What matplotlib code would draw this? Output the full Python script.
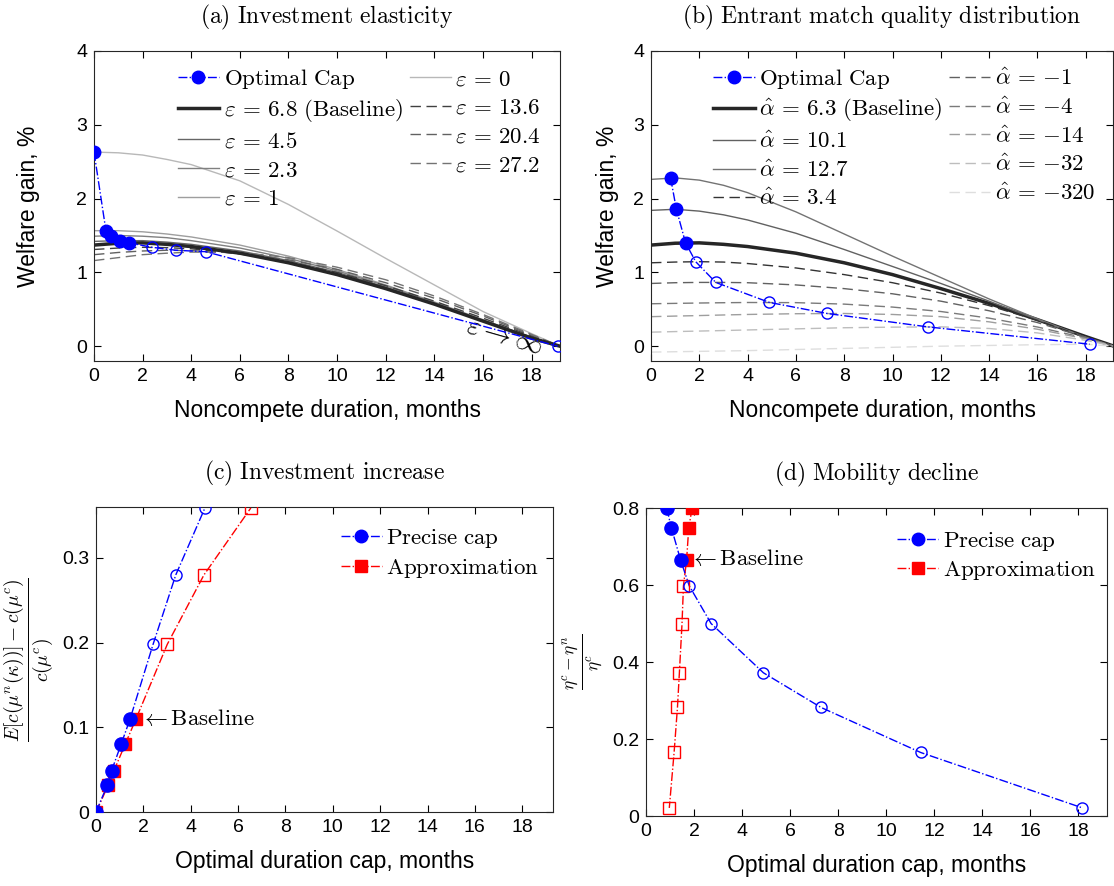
import matplotlib
matplotlib.use("Agg")
import matplotlib.pyplot as plt
from matplotlib.lines import Line2D

plt.rcParams['mathtext.fontset'] = 'cm'
plt.rcParams['font.family'] = ['Liberation Sans', 'DejaVu Sans']

# months grid on which the welfare curves were read
months = [0, 1, 2, 3, 4, 6, 8, 10, 12, 14, 16, 18, 19.17]

# (a) welfare gain (%) for each investment elasticity
eps_0 = [2.63, 2.62, 2.59, 2.53, 2.46, 2.24, 1.92, 1.56, 1.19, 0.83, 0.47, 0.17, 0.0]
eps_1 = [1.565, 1.565, 1.55, 1.52, 1.48, 1.37, 1.22, 1.04, 0.83, 0.60, 0.36, 0.12, 0.0]
eps_2_3 = [1.49, 1.50, 1.49, 1.47, 1.43, 1.33, 1.19, 1.02, 0.82, 0.59, 0.35, 0.12, 0.0]
eps_4_5 = [1.42, 1.43, 1.43, 1.41, 1.38, 1.29, 1.16, 1.00, 0.80, 0.58, 0.35, 0.12, 0.0]
eps_6_8 = [1.37, 1.395, 1.40, 1.38, 1.35, 1.26, 1.13, 0.97, 0.78, 0.57, 0.34, 0.11, 0.0]
eps_13_6 = [1.31, 1.33, 1.34, 1.335, 1.32, 1.25, 1.14, 1.00, 0.82, 0.61, 0.38, 0.14, 0.0]
eps_20_4 = [1.24, 1.27, 1.29, 1.30, 1.295, 1.26, 1.17, 1.04, 0.86, 0.65, 0.41, 0.15, 0.0]
eps_27_2 = [1.16, 1.20, 1.24, 1.26, 1.275, 1.27, 1.20, 1.07, 0.90, 0.68, 0.43, 0.16, 0.0]

cap_a_x = [0, 0.49, 0.69, 1.07, 1.45, 2.39, 3.36, 4.6, 19.07]
cap_a_y = [2.63, 1.565, 1.49, 1.43, 1.40, 1.34, 1.30, 1.28, 0.0]

# (b) welfare gain (%) for each entrant match quality parameter
alpha_12_7 = [2.26, 2.28, 2.25, 2.18, 2.08, 1.82, 1.52, 1.22, 0.93, 0.64, 0.37, 0.12, 0.0]
alpha_10_1 = [1.84, 1.855, 1.83, 1.78, 1.71, 1.53, 1.31, 1.08, 0.85, 0.61, 0.36, 0.12, 0.0]
alpha_6_3 = [1.37, 1.395, 1.40, 1.38, 1.35, 1.26, 1.13, 0.97, 0.78, 0.58, 0.36, 0.13, 0.0]
alpha_3_4 = [1.13, 1.14, 1.145, 1.14, 1.12, 1.06, 0.97, 0.86, 0.72, 0.55, 0.35, 0.12, 0.0]
alpha_m1 = [0.85, 0.86, 0.864, 0.864, 0.86, 0.83, 0.78, 0.71, 0.61, 0.48, 0.32, 0.12, 0.0]
alpha_m4 = [0.575, 0.58, 0.585, 0.589, 0.592, 0.59, 0.57, 0.53, 0.47, 0.38, 0.26, 0.11, 0.0]
alpha_m14 = [0.40, 0.408, 0.415, 0.423, 0.43, 0.44, 0.443, 0.43, 0.40, 0.33, 0.23, 0.10, 0.0]
alpha_m32 = [0.19, 0.198, 0.205, 0.212, 0.22, 0.235, 0.25, 0.258, 0.262, 0.24, 0.18, 0.08, 0.0]
alpha_m320 = [-0.08, -0.075, -0.07, -0.065, -0.06, -0.045, -0.03, -0.015, 0.0, 0.01, 0.02, 0.027, 0.0]

cap_b_x = [0.81, 1.05, 1.43, 1.85, 2.68, 4.9, 7.3, 11.45, 18.17]
cap_b_y = [2.28, 1.855, 1.40, 1.145, 0.864, 0.593, 0.443, 0.262, 0.027]

# (c) investment increase vs optimal cap
inv_precise_x = [0, 0.48, 0.66, 1.06, 1.44, 2.41, 3.37, 4.6]
inv_approx_x = [0, 0.52, 0.76, 1.23, 1.69, 3.01, 4.56, 6.54]
inv_y = [0, 0.032, 0.049, 0.08, 0.11, 0.198, 0.28, 0.359]

# (d) mobility decline vs optimal cap
mob_precise_x = [0.86, 1.06, 1.44, 1.8, 2.71, 4.89, 7.29, 11.44, 18.18]
mob_approx_x = [1.92, 1.78, 1.69, 1.56, 1.5, 1.39, 1.31, 1.17, 0.97]
mob_y = [0.8, 0.748, 0.665, 0.598, 0.5, 0.372, 0.282, 0.165, 0.021]

BLUE = (0, 0, 1)
RED = (1, 0, 0)
TICK_FS = 14
LAB_FS = 16.5
TITLE_FS = 17
LEG_FS = 16.5
DASH = (0, (7.5, 4))


def style_axes(ax):
    ax.tick_params(direction='in', top=True, right=True, length=5, width=0.8,
                   labelsize=TICK_FS, pad=5)
    for s in ax.spines.values():
        s.set_color('0.15')
        s.set_linewidth(0.8)


def cap_line(ax, x, y, nfill, color, marker, ms_f, ms_o):
    ax.plot(x, y, '-.', color=color, lw=1.0, zorder=5)
    ax.plot(x[:nfill], y[:nfill], ls='none', marker=marker, ms=ms_f,
            color=color, zorder=6)
    ax.plot(x[nfill:], y[nfill:], ls='none', marker=marker, ms=ms_o,
            mfc='none', mec=color, mew=1.0, zorder=6)


def eq(sym, val, extra=''):
    return r'$%s\,=\,{%s}%s$' % (sym, val, extra)


fig = plt.figure(figsize=(11.14, 8.86), dpi=100)
ax_a = fig.add_axes([0.0844, 0.5926, 0.4183, 0.3499])
ax_b = fig.add_axes([0.5844, 0.5926, 0.4147, 0.3499])
ax_c = fig.add_axes([0.0862, 0.0835, 0.4102, 0.3442])
ax_d = fig.add_axes([0.5799, 0.0790, 0.4138, 0.3476])

leg_kw = dict(frameon=False, fontsize=LEG_FS, loc='upper left', handlelength=1.8,
              handletextpad=0.2, labelspacing=0.25, borderpad=0)

# ---- (a)
E = r'\varepsilon'
base_a = eq(E, '6.8', r'\ \mathrm{(Baseline)}')
curves_a = [
    (eq(E, '0'), eps_0, '0.72', '-', 1.0),
    (eq(E, '1'), eps_1, '0.62', '-', 1.0),
    (eq(E, '2.3'), eps_2_3, '0.5', '-', 1.0),
    (eq(E, '4.5'), eps_4_5, '0.4', '-', 1.0),
    (eq(E, '13.6'), eps_13_6, '0.25', DASH, 1.0),
    (eq(E, '20.4'), eps_20_4, '0.38', DASH, 1.0),
    (eq(E, '27.2'), eps_27_2, '0.45', DASH, 1.0),
    (base_a, eps_6_8, '0.15', '-', 2.5),
]
handles_a = {}
for lab, vals, col, ls, lw in curves_a:
    h, = ax_a.plot(months, vals, color=col, ls=ls, lw=lw)
    handles_a[lab] = h
cap_line(ax_a, cap_a_x, cap_a_y, 5, BLUE, 'o', 9, 8)
cap_h = Line2D([], [], color=BLUE, ls='-.', lw=1.0, marker='o', ms=9)
order = [base_a, eq(E, '4.5'), eq(E, '2.3'), eq(E, '1'), eq(E, '0'),
         eq(E, '13.6'), eq(E, '20.4'), eq(E, '27.2')]
ax_a.legend([cap_h] + [handles_a[k] for k in order],
            [r'$\mathrm{Optimal\ Cap}$'] + order, ncol=2,
            bbox_to_anchor=(0.155, 0.985), columnspacing=0.3, **leg_kw)
ax_a.text(15.2, 0.14, r'$\varepsilon\rightarrow\infty$', fontsize=20,
          rotation=-16, ha='left', va='center')
ax_a.set_xlim(0, 19.17)
ax_a.set_ylim(-0.2, 4)
ax_a.set_xticks(range(0, 19, 2))
ax_a.set_yticks(range(0, 5))
ax_a.set_xlabel('Noncompete duration, months', fontsize=LAB_FS, labelpad=10)
ax_a.set_ylabel('Welfare gain, %', fontsize=LAB_FS, labelpad=26)
ax_a.set_title(r'$\mathrm{(a)\ Investment\ elasticity}$', fontsize=TITLE_FS, pad=20)
style_axes(ax_a)

# ---- (b)
A = r'\hat{\alpha}'
curves_b = [
    (eq(A, '6.3', r'\ \mathrm{(Baseline)}'), alpha_6_3, '0.15', '-', 2.5),
    (eq(A, '10.1'), alpha_10_1, '0.38', '-', 1.0),
    (eq(A, '12.7'), alpha_12_7, '0.45', '-', 1.0),
    (eq(A, '3.4'), alpha_3_4, '0.2', DASH, 1.0),
    (eq(A, '-1'), alpha_m1, '0.38', DASH, 1.0),
    (eq(A, '-4'), alpha_m4, '0.48', DASH, 1.0),
    (eq(A, '-14'), alpha_m14, '0.62', DASH, 1.0),
    (eq(A, '-32'), alpha_m32, '0.74', DASH, 1.0),
    (eq(A, '-320'), alpha_m320, '0.87', DASH, 1.0),
]
hb = []
for lab, vals, col, ls, lw in curves_b:
    h, = ax_b.plot(months, vals, color=col, ls=ls, lw=lw)
    hb.append(h)
cap_line(ax_b, cap_b_x, cap_b_y, 3, BLUE, 'o', 9, 8)
ax_b.legend([cap_h] + hb, [r'$\mathrm{Optimal\ Cap}$'] + [c[0] for c in curves_b],
            ncol=2, bbox_to_anchor=(0.11, 0.985), columnspacing=0.3, **leg_kw)
ax_b.set_xlim(0, 19.13)
ax_b.set_ylim(-0.2, 4)
ax_b.set_xticks(range(0, 19, 2))
ax_b.set_yticks(range(0, 5))
ax_b.set_xlabel('Noncompete duration, months', fontsize=LAB_FS, labelpad=10)
ax_b.set_ylabel('Welfare gain, %', fontsize=LAB_FS, labelpad=10)
ax_b.set_title(r'$\mathrm{(b)\ Entrant\ match\ quality\ distribution}$',
               fontsize=TITLE_FS, pad=20)
style_axes(ax_b)

# ---- (c)
cap_line(ax_c, inv_approx_x, inv_y, 5, RED, 's', 9, 9)
cap_line(ax_c, inv_precise_x, inv_y, 5, BLUE, 'o', 9.5, 8)
hp = Line2D([], [], color=BLUE, ls='-.', lw=1.0, marker='o', ms=9)
ha = Line2D([], [], color=RED, ls='-.', lw=1.0, marker='s', ms=9)
ax_c.legend([hp, ha], [r'$\mathrm{Precise\ cap}$', r'$\mathrm{Approximation}$'],
            bbox_to_anchor=(0.51, 0.975), **leg_kw)
ax_c.text(1.86, 0.11, r'$\leftarrow\mathrm{Baseline}$', fontsize=LEG_FS,
          ha='left', va='center')
ax_c.set_xlim(0, 19.3)
ax_c.set_ylim(0, 0.36)
ax_c.set_xticks(range(0, 19, 2))
ax_c.set_yticks([0, 0.1, 0.2, 0.3])
ax_c.set_yticklabels(['0', '0.1', '0.2', '0.3'])
ax_c.set_xlabel('Optimal duration cap, months', fontsize=LAB_FS, labelpad=10)
ax_c.set_ylabel(r'$\frac{E[c(\mu^n(\kappa))]-c(\mu^c)}{c(\mu^c)}$', fontsize=20)
ax_c.set_title(r'$\mathrm{(c)\ Investment\ increase}$', fontsize=TITLE_FS, pad=20)
style_axes(ax_c)

# ---- (d)
cap_line(ax_d, mob_approx_x, mob_y, 3, RED, 's', 9, 9)
cap_line(ax_d, mob_precise_x, mob_y, 3, BLUE, 'o', 9.5, 8)
ax_d.legend([hp, ha], [r'$\mathrm{Precise\ cap}$', r'$\mathrm{Approximation}$'],
            bbox_to_anchor=(0.52, 0.97), **leg_kw)
ax_d.text(1.8, 0.67, r'$\leftarrow\mathrm{Baseline}$', fontsize=LEG_FS,
          ha='left', va='center')
ax_d.set_xlim(0, 19.2)
ax_d.set_ylim(0, 0.8)
ax_d.set_xticks(range(0, 19, 2))
ax_d.set_yticks([0, 0.2, 0.4, 0.6, 0.8])
ax_d.set_yticklabels(['0', '0.2', '0.4', '0.6', '0.8'])
ax_d.set_xlabel('Optimal duration cap, months', fontsize=LAB_FS, labelpad=10)
ax_d.set_ylabel(r'$\frac{\eta^c-\eta^n}{\eta^c}$', fontsize=18)
ax_d.set_title(r'$\mathrm{(d)\ Mobility\ decline}$', fontsize=TITLE_FS, pad=20)
style_axes(ax_d)

fig.savefig('out.png', dpi=100)
